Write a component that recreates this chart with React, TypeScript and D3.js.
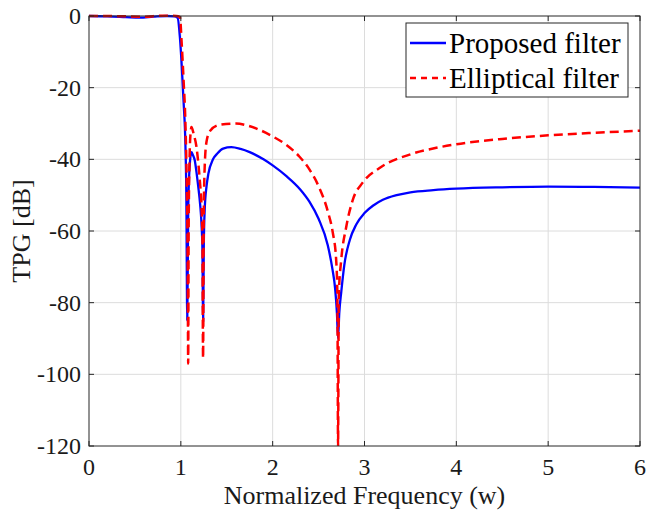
import React, { useEffect, useRef } from "react";
import * as d3 from "d3";

// frequency samples (w) and TPG [dB]
const wProposed = [0, 0.2, 0.4, 0.55, 0.7, 0.85, 0.93, 0.965, 0.99, 1.01, 1.03, 1.05, 1.06, 1.07, 1.08, 1.09, 1.1, 1.116, 1.13, 1.152, 1.17, 1.19, 1.21, 1.225, 1.235, 1.243, 1.25, 1.26, 1.28, 1.3, 1.35, 1.4, 1.46, 1.55, 1.65, 1.75, 1.9, 2.0, 2.15, 2.3, 2.4, 2.5, 2.6, 2.65, 2.68, 2.7, 2.712, 2.725, 2.747, 2.78, 2.84, 2.91, 3.0, 3.1, 3.2, 3.35, 3.5, 3.75, 4, 4.5, 5, 5.5, 6];
const tpgProposed = [0, -0.1, -0.3, -0.45, -0.2, 0, -0.1, -0.5, -6, -14, -24, -36, -50, -85, -55, -45, -40.5, -38, -38.7, -40.3, -43.5, -47.7, -52.5, -58, -65, -85, -64, -54, -47.5, -44, -40, -38.3, -37, -36.6, -37.1, -38, -40, -41.7, -44.7, -48.4, -51.8, -56.6, -64, -70.5, -76, -83, -90, -83, -77, -69.5, -62.5, -58.2, -55, -52.8, -51.3, -50, -49.2, -48.6, -48.2, -47.8, -47.6, -47.7, -47.9];

const wElliptic = [0, 0.2, 0.4, 0.6, 0.8, 0.95, 0.99, 1.01, 1.03, 1.05, 1.065, 1.075, 1.08, 1.085, 1.095, 1.105, 1.116, 1.14, 1.17, 1.19, 1.207, 1.225, 1.235, 1.242, 1.25, 1.26, 1.28, 1.32, 1.42, 1.6, 1.73, 1.85, 2.0, 2.15, 2.29, 2.4, 2.5, 2.6, 2.655, 2.69, 2.705, 2.712, 2.72, 2.747, 2.8, 2.87, 2.98, 3.16, 3.5, 3.8, 4.0, 4.5, 5, 5.5, 6];
const tpgElliptic = [0, 0, -0.1, -0.2, 0.1, 0, -0.3, -8, -18, -30, -48, -70, -97, -60, -40, -33, -31, -33, -36.5, -41, -46, -53, -62, -95.5, -55, -42, -35, -32, -30.4, -30, -30.6, -31.7, -33.6, -36, -39.2, -42.8, -47.5, -54.5, -60.5, -67.5, -78, -120, -78, -68, -59, -51.5, -46.5, -42.5, -38.6, -36.7, -35.8, -34.3, -33.3, -32.6, -32];

const xTicks = [0, 1, 2, 3, 4, 5, 6];
const yTicks = [0, -20, -40, -60, -80, -100, -120];
const seriesNames = ["Proposed filter", "Elliptical filter"];

function App() {
  const ref = useRef<SVGSVGElement | null>(null);

  useEffect(() => {
    const W = 647, H = 512;
    const margin = { top: 16, right: 7, bottom: 66, left: 89 };
    const width = W - margin.left - margin.right;
    const height = H - margin.top - margin.bottom;
    const font = "'Liberation Serif', 'Times New Roman', serif";

    const root = d3.select(ref.current);
    root.selectAll("*").remove();
    const svg = root.append("g").attr("transform", `translate(${margin.left},${margin.top})`);

    const x = d3.scaleLinear().domain([0, 6]).range([0, width]);
    const y = d3.scaleLinear().domain([-120, 0]).range([height, 0]);

    // grid
    svg.append("g").selectAll("line").data(xTicks.slice(1, -1)).enter().append("line")
      .attr("x1", d => x(d)).attr("x2", d => x(d)).attr("y1", 0).attr("y2", height)
      .attr("stroke", "#dcdcdc").attr("stroke-width", 1);
    svg.append("g").selectAll("line").data(yTicks.slice(1, -1)).enter().append("line")
      .attr("y1", d => y(d)).attr("y2", d => y(d)).attr("x1", 0).attr("x2", width)
      .attr("stroke", "#dcdcdc").attr("stroke-width", 1);

    const clip = svg.append("clipPath").attr("id", "plotclip");
    clip.append("rect").attr("x", 0).attr("y", -2).attr("width", width).attr("height", height + 2);

    const line = d3.line<[number, number]>()
      .x(d => x(d[0]))
      .y(d => y(d[1]))
      .curve(d3.curveMonotoneX);

    const proposed = wProposed.map((w, i) => [w, tpgProposed[i]] as [number, number]);
    const elliptic = wElliptic.map((w, i) => [w, tpgElliptic[i]] as [number, number]);

    const plot = svg.append("g").attr("clip-path", "url(#plotclip)");
    plot.append("path").datum(proposed).attr("d", line)
      .attr("fill", "none").attr("stroke", "#0000ff").attr("stroke-width", 2.3);
    plot.append("path").datum(elliptic).attr("d", line)
      .attr("fill", "none").attr("stroke", "#ff0000").attr("stroke-width", 2.5)
      .attr("stroke-dasharray", "9,5");

    // axes box
    svg.append("rect").attr("x", 0).attr("y", 0).attr("width", width).attr("height", height)
      .attr("fill", "none").attr("stroke", "#262626").attr("stroke-width", 1);

    // inward ticks
    const tk = 5;
    xTicks.forEach(t => {
      svg.append("line").attr("x1", x(t)).attr("x2", x(t)).attr("y1", height).attr("y2", height - tk).attr("stroke", "#262626");
      svg.append("line").attr("x1", x(t)).attr("x2", x(t)).attr("y1", 0).attr("y2", tk).attr("stroke", "#262626");
    });
    yTicks.forEach(t => {
      svg.append("line").attr("y1", y(t)).attr("y2", y(t)).attr("x1", 0).attr("x2", tk).attr("stroke", "#262626");
      svg.append("line").attr("y1", y(t)).attr("y2", y(t)).attr("x1", width).attr("x2", width - tk).attr("stroke", "#262626");
    });

    // tick labels
    svg.append("g").selectAll("text").data(xTicks).enter().append("text")
      .attr("x", d => x(d)).attr("y", height + 29)
      .attr("text-anchor", "middle").style("font-family", font).style("font-size", "24px")
      .attr("fill", "#1a1a1a").text(d => d);
    svg.append("g").selectAll("text").data(yTicks).enter().append("text")
      .attr("x", -8).attr("y", d => y(d)).attr("dy", "0.33em")
      .attr("text-anchor", "end").style("font-family", font).style("font-size", "24px")
      .attr("fill", "#1a1a1a").text(d => d);

    // axis labels
    svg.append("text").attr("x", width / 2).attr("y", height + 58)
      .attr("text-anchor", "middle").style("font-family", font).style("font-size", "26px")
      .attr("fill", "#1a1a1a").text("Normalized Frequency (w)");
    svg.append("text")
      .attr("transform", `translate(${-margin.left + 30},${height / 2}) rotate(-90)`)
      .attr("text-anchor", "middle").style("font-family", font).style("font-size", "26px")
      .attr("fill", "#1a1a1a").text("TPG [dB]");

    // legend
    const lg = svg.append("g").attr("transform", `translate(${406 - margin.left},${23 - margin.top})`);
    lg.append("rect").attr("width", 222).attr("height", 74)
      .attr("fill", "white").attr("stroke", "#262626").attr("stroke-width", 1);
    seriesNames.forEach((name, i) => {
      const ly = 20 + i * 35;
      lg.append("line").attr("x1", 4).attr("x2", 40).attr("y1", ly).attr("y2", ly)
        .attr("stroke", i === 0 ? "#0000ff" : "#ff0000").attr("stroke-width", i === 0 ? 2.3 : 2.5)
        .attr("stroke-dasharray", i === 0 ? null : "6,5");
      lg.append("text").attr("x", 43).attr("y", ly).attr("dy", "0.33em")
        .style("font-family", font).style("font-size", "29px").attr("fill", "#000").text(name);
    });
  }, []);

  return (
    <svg ref={ref} width={647} height={512}
      style={{ position: "absolute", left: 0, top: 0, background: "white" }} />
  );
}

export default App;
